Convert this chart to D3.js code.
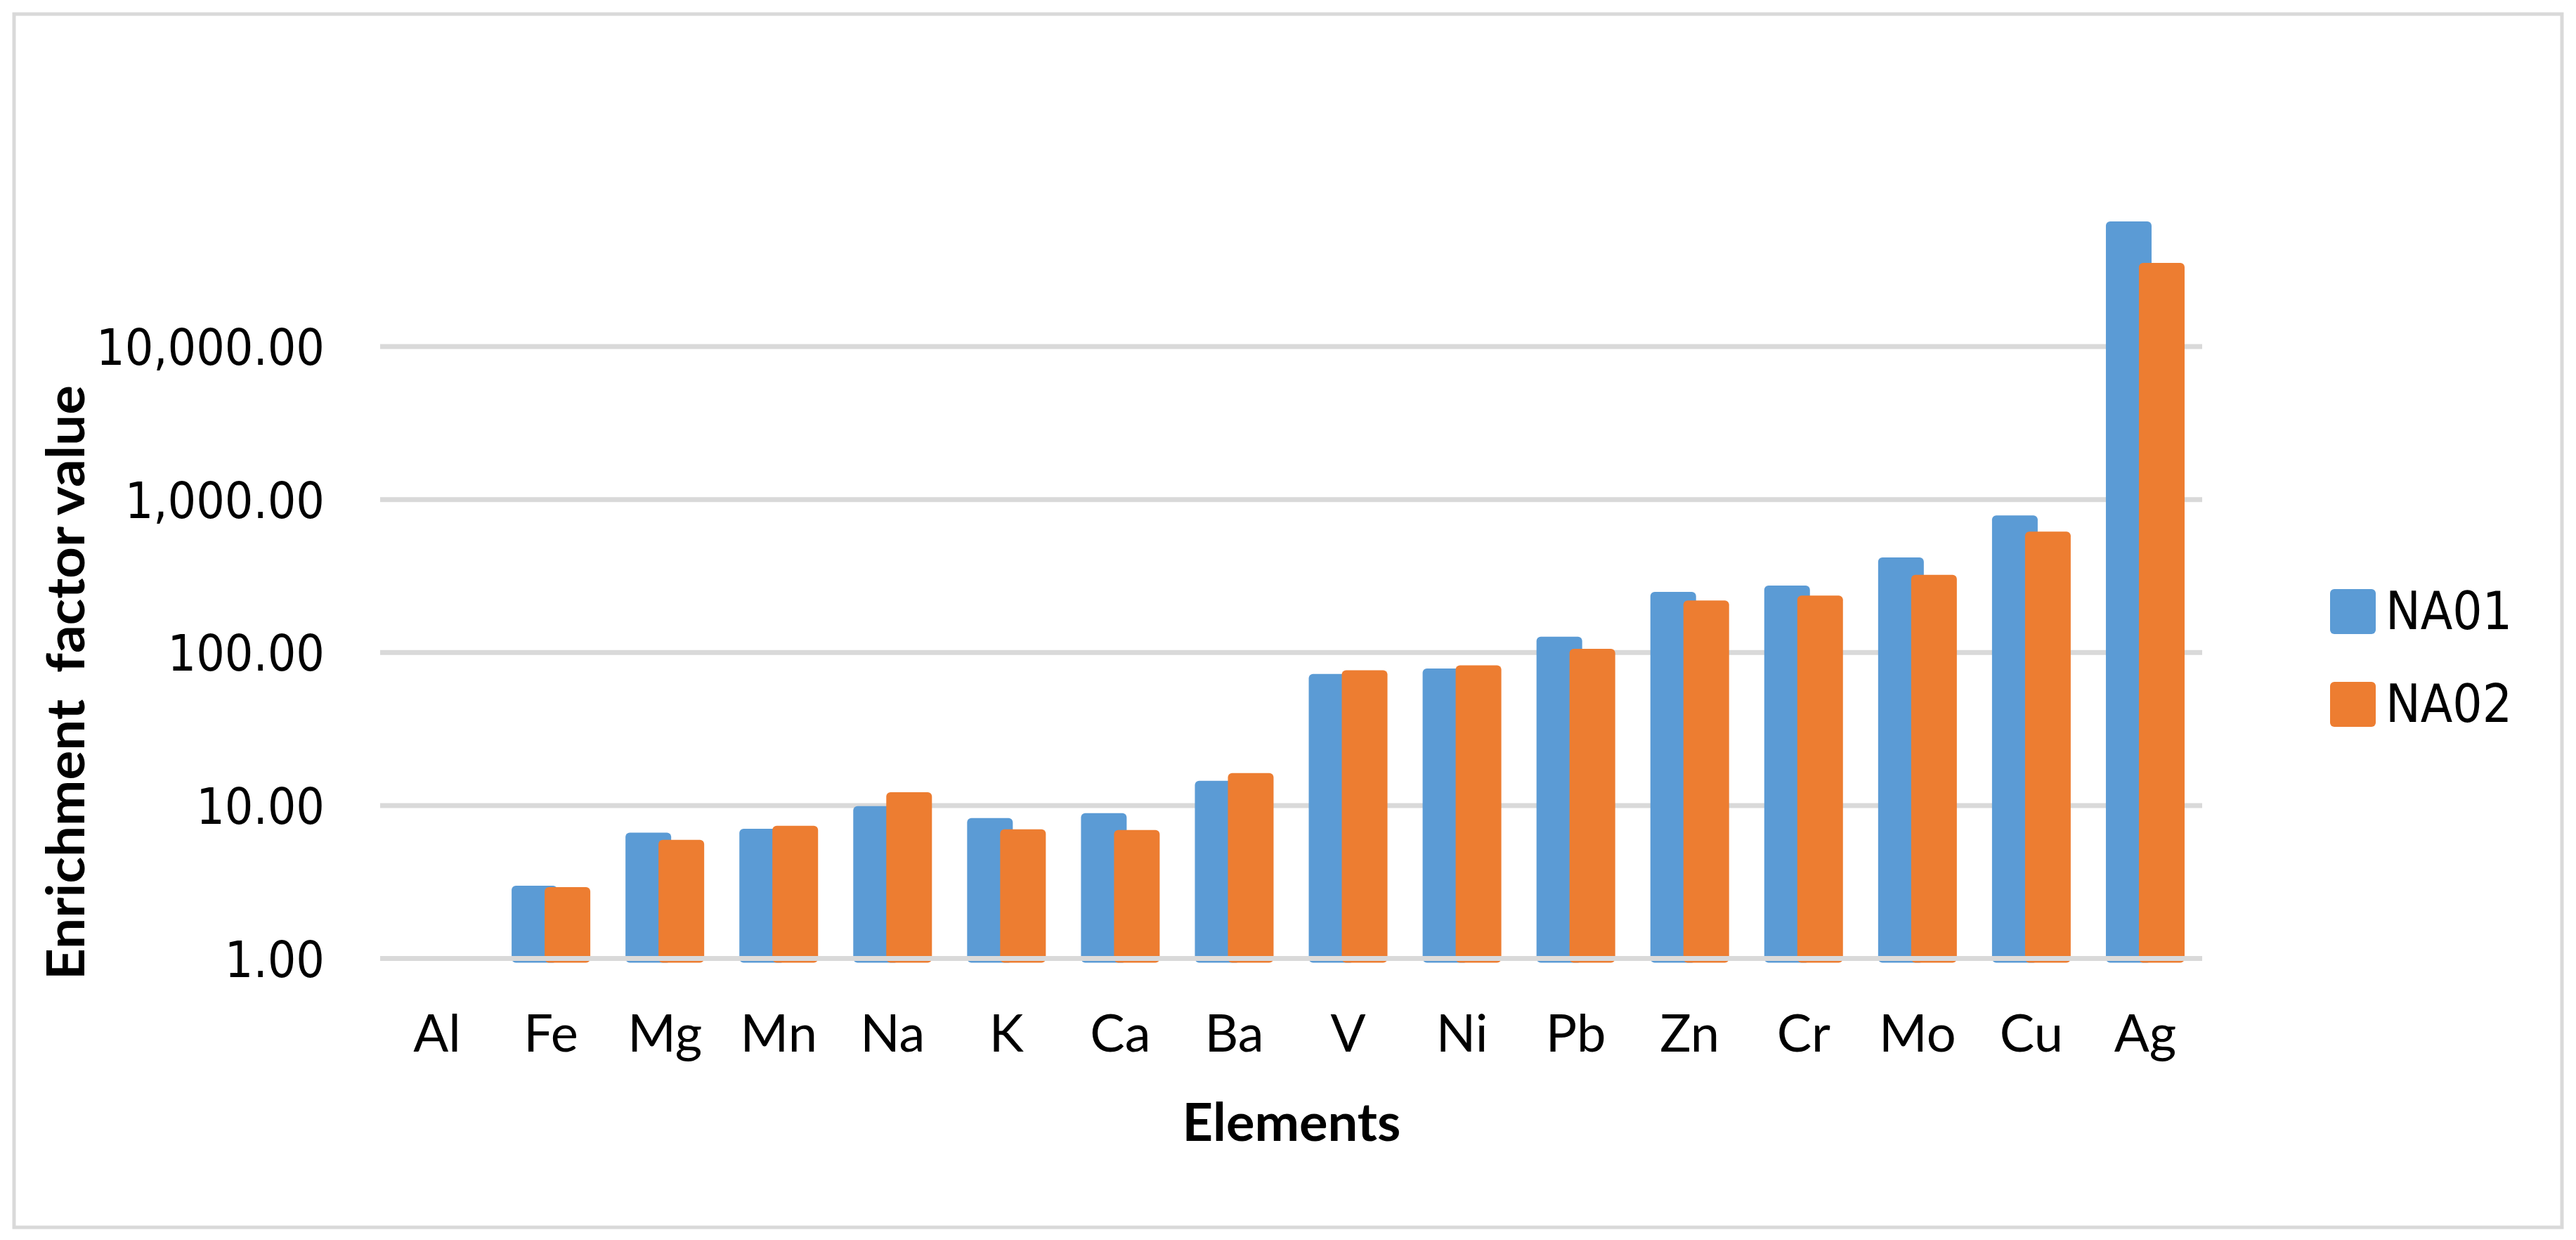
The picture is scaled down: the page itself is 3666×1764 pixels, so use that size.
<!DOCTYPE html>
<html>
<head>
<meta charset="utf-8">
<script src="https://cdn.jsdelivr.net/npm/d3@7"></script>
<style>
  html, body { margin: 0; padding: 0; background: #ffffff; }
  svg { display: block; }
</style>
</head>
<body>
<script>
const categories = ["Al","Fe","Mg","Mn","Na","K","Ca","Ba","V","Ni","Pb","Zn","Cr","Mo","Cu","Ag"];
const seriesNames = ["NA01","NA02"];
const na01 = [1, 2.99, 6.64, 7.05, 9.9, 8.28, 8.91, 14.5, 72.5, 78.7, 126.9, 249, 274, 419, 787, 65800];
const na02 = [1, 2.93, 5.97, 7.37, 12.2, 6.99, 6.91, 16.3, 76.5, 82.4, 105.7, 219, 236, 322, 617, 35250];
const yTicks = [1, 10, 100, 1000, 10000];
const colors = ["#5B9BD5", "#ED7D31"];
const yTitle = "Enrichment  factor value";
const xTitle = "Elements";

const W = 3666, H = 1764;
const svg = d3.select("body").append("svg").attr("width", W).attr("height", H);
svg.append("rect").attr("width", W).attr("height", H).attr("fill", "#fff");

// outer border
svg.append("rect").attr("x", 20).attr("y", 20).attr("width", 3626).attr("height", 1726)
  .attr("fill", "none").attr("stroke", "#D9D9D9").attr("stroke-width", 5);

const plotL = 541, plotR = 3134, base = 1363.5, decade = 217.6;
const x = d3.scaleBand().domain(categories).range([plotL, plotR]);
const y = d3.scaleLog().domain([1, 100000]).range([base, base - 5 * decade]);
const off = d3.scalePoint().domain(seriesNames).range([-23.5, 23.5]);
const barW = 65;

const tickFont = "'DejaVu Sans Condensed', 'DejaVu Sans', sans-serif";
const labFont = "Lato, 'Open Sans', sans-serif";

// gridlines (behind bars)
svg.append("g").selectAll("line").data(yTicks.filter(t => t > 1)).join("line")
  .attr("x1", plotL).attr("x2", plotR)
  .attr("y1", d => y(d)).attr("y2", d => y(d))
  .attr("stroke", "#D9D9D9").attr("stroke-width", 7);

// y axis labels
const yAxis = svg.append("g").attr("transform", `translate(${plotL},0)`)
  .call(d3.axisLeft(y).tickValues(yTicks).tickFormat(d3.format(",.2f")).tickSize(0).tickPadding(79));
yAxis.select(".domain").remove();
yAxis.selectAll("text").attr("font-family", tickFont).style("font-stretch", "condensed")
  .attr("font-size", 71).attr("fill", "#000").attr("dy", "0.36em");

// bars
const series = [na01, na02];
series.forEach((vals, si) => {
  const data = categories.map((c, i) => ({ c, v: vals[i] })).filter(d => d.v > 1);
  svg.append("g").selectAll("rect").data(data).join("rect")
    .attr("x", d => x(d.c) + x.bandwidth() / 2 + off(seriesNames[si]) - barW / 2)
    .attr("width", barW)
    .attr("y", d => y(d.v))
    .attr("height", d => y(1) - y(d.v) + 6)
    .attr("rx", 6).attr("ry", 6)
    .attr("fill", colors[si]);
});

// category axis line on top
svg.append("line").attr("x1", plotL).attr("x2", plotR)
  .attr("y1", y(1)).attr("y2", y(1))
  .attr("stroke", "#D9D9D9").attr("stroke-width", 7);

// x labels
svg.append("g").selectAll("text").data(categories).join("text")
  .attr("x", d => x(d) + x.bandwidth() / 2)
  .attr("y", 1496)
  .attr("text-anchor", "middle")
  .attr("font-family", labFont).attr("font-size", 74).attr("fill", "#000")
  .text(d => d);

// x title
svg.append("text").attr("x", 1838).attr("y", 1623).attr("text-anchor", "middle")
  .attr("font-family", labFont).attr("font-weight", "bold").attr("font-size", 74)
  .attr("textLength", 311).attr("lengthAdjust", "spacingAndGlyphs")
  .attr("fill", "#000").text(xTitle);

// y title
svg.append("text").attr("transform", "translate(120,971) rotate(-90)")
  .attr("text-anchor", "middle").style("white-space", "pre")
  .attr("font-family", labFont).attr("font-weight", "bold").attr("font-size", 74)
  .attr("textLength", 846).attr("lengthAdjust", "spacingAndGlyphs")
  .attr("fill", "#000").text(yTitle);

// legend
const legY = d3.scalePoint().domain(seriesNames).range([838, 970]);
const leg = svg.append("g").selectAll("g").data(seriesNames).join("g")
  .attr("transform", d => `translate(3316,${legY(d)})`);
leg.append("rect").attr("width", 65).attr("height", 64).attr("rx", 6).attr("ry", 6)
  .attr("fill", (d, i) => colors[i]);
leg.append("text").attr("x", 79).attr("y", 57)
  .attr("font-family", tickFont).style("font-stretch", "condensed")
  .attr("font-size", 74).attr("fill", "#000").text(d => d);
</script>
</body>
</html>
